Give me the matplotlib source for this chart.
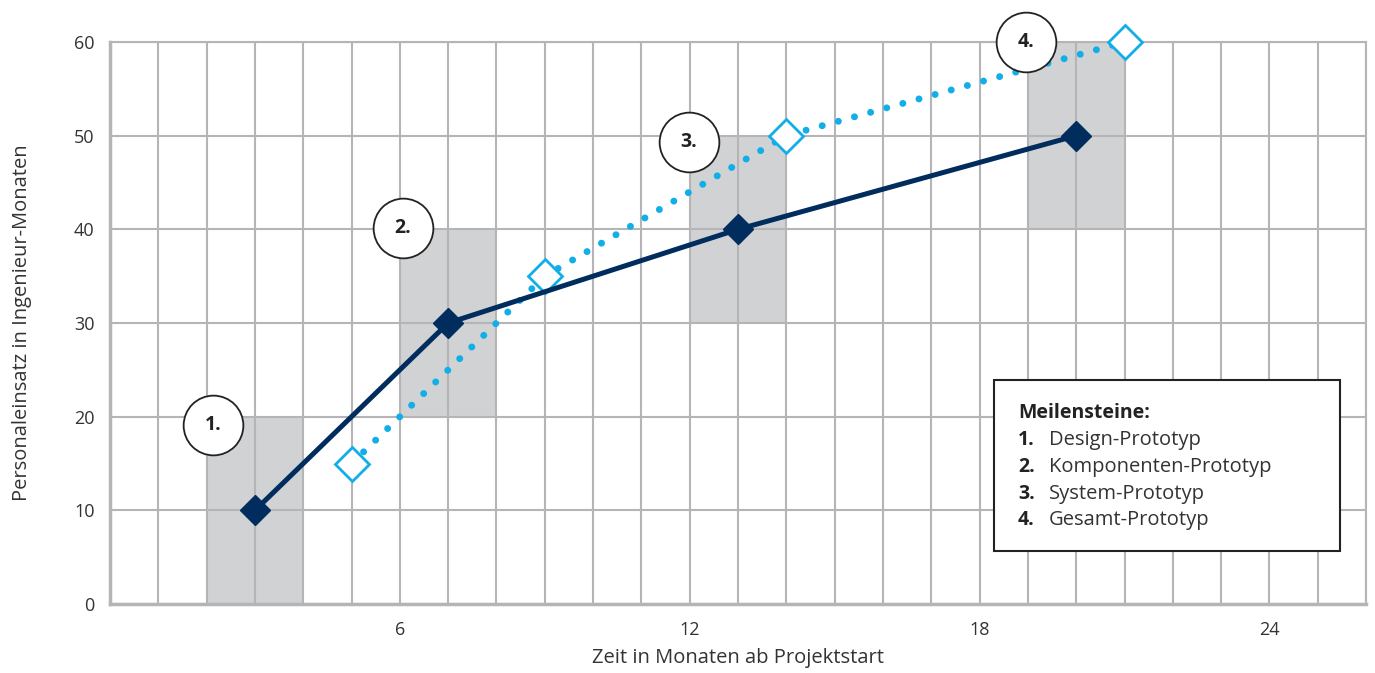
import matplotlib
matplotlib.use("Agg")
import matplotlib.pyplot as plt
from matplotlib.patches import Rectangle

# ---- data ----
months_ist = [3, 7, 13, 20]
effort_ist = [10, 30, 40, 50]
months_plan = [5, 9, 14, 21]
effort_plan = [15, 35, 50, 60]
# milestone windows: (x start, x end, y low, y high)
box_x0 = [2, 6, 12, 19]
box_x1 = [4, 8, 14, 21]
box_y0 = [0, 20, 30, 40]
box_y1 = [20, 40, 50, 60]
ms_labels = ["1.", "2.", "3.", "4."]
ms_x = [2.13, 6.06, 11.98, 18.97]
ms_y = [19.1, 40.1, 49.3, 60.0]
legend_names = ["Design-Prototyp", "Komponenten-Prototyp", "System-Prototyp", "Gesamt-Prototyp"]
xticks = [6, 12, 18, 24]
yticks = [0, 10, 20, 30, 40, 50, 60]

plt.rcParams['font.family'] = ['Open Sans', 'DejaVu Sans']

fig = plt.figure(figsize=(13.75, 6.73), dpi=100)
ax = fig.add_axes([0.08, 0.1025, 0.9135, 0.8351])
ax.set_xlim(0, 26)
ax.set_ylim(0, 60)

grid_c = "#b5b5b7"
ax.set_xticks(xticks)
ax.set_xticks(range(0, 27), minor=True)
ax.set_yticks(yticks)
ax.tick_params(which='both', length=0, labelsize=13, colors="#333333")
ax.tick_params(axis='x', pad=12)
ax.tick_params(axis='y', pad=11)
ax.grid(True, which='both', color=grid_c, lw=1.5)
ax.set_axisbelow('line')
for s in ax.spines.values():
    s.set_color(grid_c)
    s.set_linewidth(1.5)
ax.spines['left'].set_linewidth(2.5)
ax.spines['bottom'].set_linewidth(2.5)

for x0, x1, y0, y1 in zip(box_x0, box_x1, box_y0, box_y1):
    ax.add_patch(Rectangle((x0, y0), x1 - x0, y1 - y0, facecolor="#d1d2d4",
                           edgecolor='none', zorder=0.5))

ax.plot(months_plan, effort_plan, color="#11aee8", lw=5,
        linestyle=(0, (0.01, 2.4)), dash_capstyle='round', zorder=3, clip_on=False)
ax.plot(months_plan, effort_plan, linestyle='none', marker='D', markersize=17,
        markerfacecolor='white', markeredgecolor="#11aee8", markeredgewidth=2, zorder=4,
        clip_on=False)
ax.plot(months_ist, effort_ist, color="#002d5e", lw=3.6, marker='D', markersize=15,
        zorder=4, clip_on=False)

for lab, x, y in zip(ms_labels, ms_x, ms_y):
    ax.plot([x], [y], marker='o', markersize=43, markerfacecolor='white',
            markeredgecolor='#222222', markeredgewidth=1.3, zorder=6, clip_on=False)
    ax.text(x, y, lab, ha='center', va='center', fontsize=14, fontweight='bold',
            color='#222222', zorder=7)

ax.set_xlabel("Zeit in Monaten ab Projektstart", fontsize=14.5, color="#333333", labelpad=7)
ax.set_ylabel("Personaleinsatz in Ingenieur-Monaten", fontsize=14.5, color="#333333", labelpad=30)

# legend box
ax.add_patch(Rectangle((0.704, 0.094), 0.275, 0.305, transform=ax.transAxes,
                       facecolor='white', edgecolor='#222222', lw=1.5, zorder=8))
tx0 = (1018 - 110) / 1256
tx1 = (1049 - 110) / 1256
ax.text(tx0, (604 - 413) / 562, "Meilensteine:", transform=ax.transAxes, fontsize=14,
        fontweight='bold', color='#222222', va='center', ha='left', zorder=9)
row_y = [440, 467, 494, 520]
for lab, name, py in zip(ms_labels, legend_names, row_y):
    yy = (604 - py) / 562
    ax.text(tx0, yy, lab, transform=ax.transAxes, fontsize=14, fontweight='bold',
            color='#222222', va='center', ha='left', zorder=9)
    ax.text(tx1, yy, name, transform=ax.transAxes, fontsize=14.5,
            color='#333333', va='center', ha='left', zorder=9)

fig.savefig("out.png", dpi=100)
